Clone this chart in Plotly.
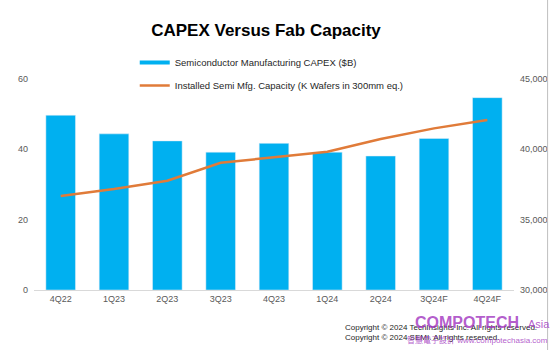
import plotly.graph_objects as go

quarters = ["4Q22", "1Q23", "2Q23", "3Q23", "4Q23", "1Q24", "2Q24", "3Q24F", "4Q24F"]
capex = [49.7, 44.4, 42.4, 39.2, 41.7, 39.2, 38.1, 43.1, 54.7]
capacity = [36680, 37180, 37770, 39050, 39430, 39830, 40730, 41490, 42080]

capex_name = "Semiconductor Manufacturing CAPEX ($B)"
capacity_name = "Installed Semi Mfg. Capacity (K Wafers in 300mm eq.)"

BLUE = "#00B0F0"
ORANGE = "#E07B39"
FONT = "Liberation Sans, Arial, sans-serif"

fig = go.Figure()
fig.add_trace(go.Bar(x=quarters, y=capex, name=capex_name, marker_color=BLUE,
                     showlegend=False, legendgroup="a"))
# legend entry drawn as thick line like the original
fig.add_trace(go.Scatter(x=[None], y=[None], mode="lines", name=capex_name,
                         line=dict(color=BLUE, width=4), legendgroup="a"))
fig.add_trace(go.Scatter(x=quarters, y=capacity, name=capacity_name, mode="lines",
                         line=dict(color=ORANGE, width=2.5), yaxis="y2", legendgroup="b"))

L, R, T, B = 34, 40, 79, 60
W, H = 560, 350
pw = W - L - R
ph = H - T - B

def px_x(x):
    return (x - L) / pw

def px_y(y):
    return (H - B - y) / ph

fig.update_layout(
    width=W, height=H,
    margin=dict(l=L, r=R, t=T, b=B, pad=0),
    paper_bgcolor="white", plot_bgcolor="white",
    font=dict(family=FONT, size=9, color="#595959"),
    title=dict(text="<b>CAPEX Versus Fab Capacity</b>", x=266 / W, xref="container", xanchor="center",
               y=1 - 30 / H, yref="container", yanchor="middle",
               font=dict(family=FONT, size=17, color="black")),
    bargap=0.445,
    xaxis=dict(showgrid=False, showline=True, linecolor="#D9D9D9", linewidth=1,
               ticks="", tickfont=dict(size=9, color="#595959"), range=[-0.5, 8.5]),
    yaxis=dict(range=[0, 60], dtick=20, showgrid=False, zeroline=False, ticks="",
               ticklabelstandoff=5, tickfont=dict(size=9, color="#595959")),
    yaxis2=dict(range=[30000, 45000], dtick=5000, overlaying="y", side="right",
                showgrid=False, zeroline=False, ticks="", tickformat=",",
                ticklabelstandoff=5, tickfont=dict(size=9, color="#595959")),
    legend=dict(x=px_x(136), y=px_y(48), xanchor="left", yanchor="top",
                font=dict(size=9.5, color="#262626"), traceorder="grouped",
                tracegroupgap=4, bgcolor="rgba(0,0,0,0)"),
    showlegend=True,
)

fig.add_shape(type="line", xref="paper", yref="paper",
              x0=px_x(554), x1=px_x(554), y0=px_y(0), y1=px_y(350),
              line=dict(color="#BFBFBF", width=1))

fig.add_annotation(text="Copyright © 2024 TechInsights Inc. All rights reserved.<br>Copyright © 2024 SEMI. All rights reserved.",
                   xref="paper", yref="paper", x=px_x(347), y=px_y(321), xanchor="left", yanchor="top",
                   align="left", showarrow=False, font=dict(family=FONT, size=8, color="#262626"))

# watermark
WM = "rgba(160,50,190,0.8)"
fig.add_annotation(text="<b>COMPOTECH</b>", xref="paper", yref="paper", x=px_x(418), y=px_y(333),
                   xanchor="left", yanchor="bottom", showarrow=False,
                   font=dict(family=FONT, size=16, color=WM))
fig.add_annotation(text="Asia", xref="paper", yref="paper", x=px_x(532), y=px_y(332),
                   xanchor="left", yanchor="bottom", showarrow=False,
                   font=dict(family=FONT, size=11, color=WM))
fig.add_annotation(text="智慧電子設計 www.compotechasia.com", xref="paper", yref="paper", x=px_x(556), y=px_y(347),
                   xanchor="right", yanchor="bottom", showarrow=False,
                   font=dict(family="Liberation Sans, Noto Sans CJK TC, sans-serif", size=8, color=WM))

fig.write_html("out.html")
